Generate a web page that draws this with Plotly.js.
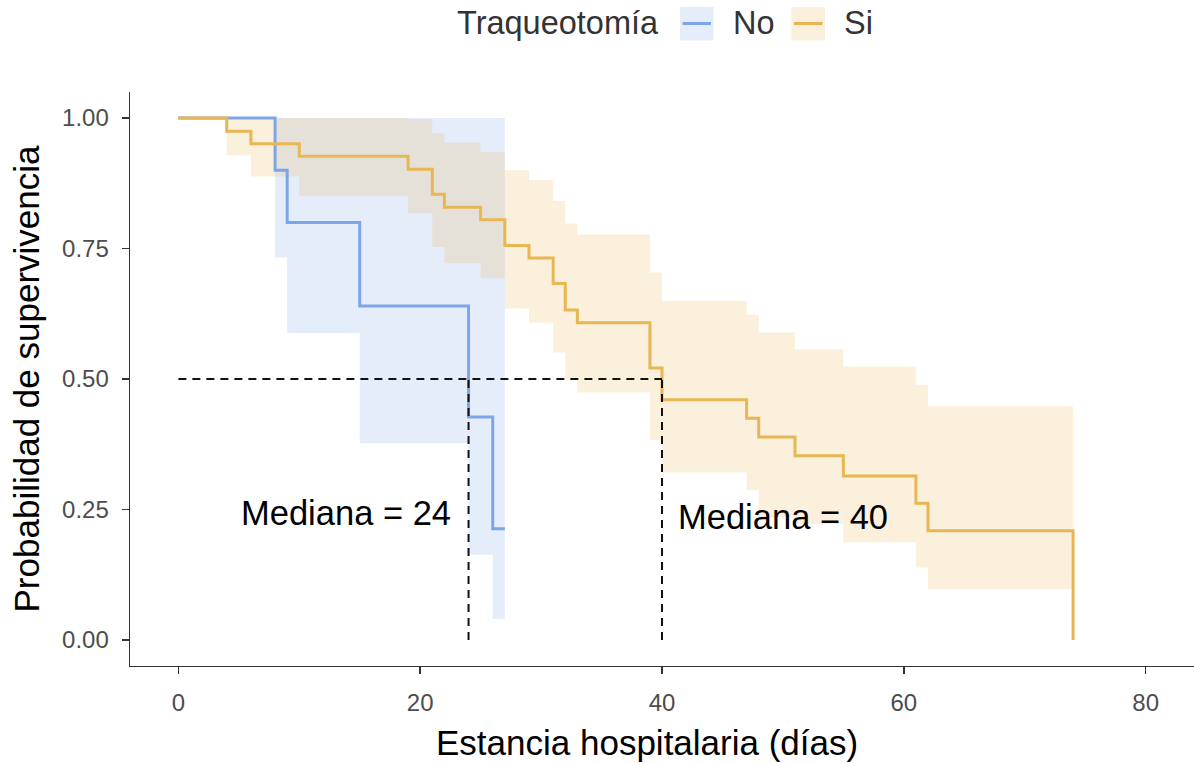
<!DOCTYPE html>
<html>
<head>
<meta charset="utf-8">
<script src="https://cdn.plot.ly/plotly-3.0.1.min.js"></script>
<style>html,body{margin:0;padding:0;background:#fff;}#chart{width:1194px;height:763px;}</style>
</head>
<body>
<div id="chart"></div>
<script>
// ---- Data ----
// Group "No" (sin traqueotomía)
var noTime  = [0, 8, 9, 15, 24, 26, 27];
var noSurv  = [1, 0.900, 0.800, 0.640, 0.427, 0.213, 0.213];
var noUpper = [1, 1, 1, 1, 1, 1, 1];
var noLower = [1, 0.733, 0.588, 0.377, 0.163, 0.040, 0.040];

// Group "Si" (con traqueotomía)
var siTime  = [0, 4, 6, 10, 19, 21, 22, 25, 27, 29, 31, 32, 33, 39, 40, 47, 48, 51, 55, 61, 62, 74];
var siSurv  = [1, 0.975, 0.951, 0.927, 0.902, 0.854, 0.829, 0.805, 0.756, 0.732, 0.683, 0.632, 0.608, 0.521, 0.460, 0.425, 0.389, 0.353, 0.314, 0.262, 0.209, 0];
var siUpper = [1, 1, 1, 1, 0.998, 0.971, 0.953, 0.935, 0.900, 0.881, 0.841, 0.798, 0.777, 0.704, 0.650, 0.623, 0.589, 0.557, 0.524, 0.489, 0.448, 0.448];
var siLower = [1, 0.929, 0.888, 0.851, 0.817, 0.753, 0.722, 0.693, 0.635, 0.608, 0.551, 0.500, 0.474, 0.383, 0.321, 0.287, 0.235, 0.222, 0.187, 0.139, 0.097, 0.097];

var groupNames = ["No", "Si"];
var medians = [24, 40];
var medianLevel = 0.5;
var medianLabels = ["Mediana = 24", "Mediana = 40"];
var legendTitle = "Traqueotomía";
var xTitle = "Estancia hospitalaria (días)";
var yTitle = "Probabilidad de supervivencia";

var xTicks = [0, 20, 40, 60, 80];
var yTicks = [0, 0.25, 0.5, 0.75, 1];
var yTickText = ["0.00", "0.25", "0.50", "0.75", "1.00"];

// ---- Styles ----
var blue = "rgb(124,166,234)";
var blueFill = "rgba(124,166,234,0.2)";
var orange = "rgb(232,182,82)";
var orangeFill = "rgba(232,182,82,0.2)";
var FONT = "Liberation Sans, Arial, Helvetica, sans-serif";

// lines for the median reference (built from medians)
var dx = [], dy = [];
var maxMed = Math.max.apply(null, medians);
dx.push(0, maxMed, null); dy.push(medianLevel, medianLevel, null);
medians.forEach(function (m) { dx.push(m, m, null); dy.push(0, medianLevel, null); });

var traces = [
  {x: noTime, y: noLower, mode: "lines", line: {width: 0, shape: "hv"}, hoverinfo: "skip", showlegend: false},
  {x: noTime, y: noUpper, mode: "lines", line: {width: 0, shape: "hv"}, fill: "tonexty", fillcolor: blueFill, hoverinfo: "skip", showlegend: false},
  {x: siTime, y: siLower, mode: "lines", line: {width: 0, shape: "hv"}, hoverinfo: "skip", showlegend: false},
  {x: siTime, y: siUpper, mode: "lines", line: {width: 0, shape: "hv"}, fill: "tonexty", fillcolor: orangeFill, hoverinfo: "skip", showlegend: false},
  {x: noTime, y: noSurv, name: groupNames[0], mode: "lines", line: {color: blue, width: 3, shape: "hv"}, showlegend: false},
  {x: siTime, y: siSurv, name: groupNames[1], mode: "lines", line: {color: orange, width: 3, shape: "hv"}, showlegend: false},
  {x: dx, y: dy, mode: "lines", line: {color: "#111", width: 2, dash: "8px,6px"}, hoverinfo: "skip", showlegend: false, connectgaps: false}
];

// Manual legend (paper coordinates; plot area 130..1194 x 92..666 px)
function px2x(p) { return (p - 130) / 1064; }
function px2y(p) { return (666 - p) / 574; }
var legY = px2y(23.5);

var shapes = [
  {type: "rect", xref: "paper", yref: "paper", x0: px2x(680), x1: px2x(713.5), y0: px2y(40.5), y1: px2y(7), fillcolor: blueFill, line: {width: 0}},
  {type: "line", xref: "paper", yref: "paper", x0: px2x(682.5), x1: px2x(711), y0: legY, y1: legY, line: {color: blue, width: 3}},
  {type: "rect", xref: "paper", yref: "paper", x0: px2x(791.5), x1: px2x(825), y0: px2y(40.5), y1: px2y(7), fillcolor: orangeFill, line: {width: 0}},
  {type: "line", xref: "paper", yref: "paper", x0: px2x(794), x1: px2x(822.5), y0: legY, y1: legY, line: {color: orange, width: 3}}
];

var annotations = [
  {xref: "paper", yref: "paper", x: px2x(661), y: legY, xanchor: "right", yanchor: "middle", text: legendTitle, showarrow: false, font: {family: FONT, size: 32.5, color: "#333"}},
  {xref: "paper", yref: "paper", x: px2x(730.5), y: legY, xanchor: "left", yanchor: "middle", text: groupNames[0], showarrow: false, font: {family: FONT, size: 32.5, color: "#333"}},
  {xref: "paper", yref: "paper", x: px2x(842), y: legY, xanchor: "left", yanchor: "middle", text: groupNames[1], showarrow: false, font: {family: FONT, size: 32.5, color: "#333"}},
  {x: 13.9, y: 0.243, xref: "x", yref: "y", text: medianLabels[0], showarrow: false, xanchor: "center", yanchor: "middle", font: {family: FONT, size: 34.5, color: "#000"}},
  {x: 50.0, y: 0.236, xref: "x", yref: "y", text: medianLabels[1], showarrow: false, xanchor: "center", yanchor: "middle", font: {family: FONT, size: 34.5, color: "#000"}},
  {xref: "paper", yref: "paper", x: px2x(647), y: px2y(742), xanchor: "center", yanchor: "middle", text: xTitle, showarrow: false, borderpad: 0, font: {family: FONT, size: 35, color: "#000"}}
];

var axisCommon = {
  showline: true, linecolor: "#333", linewidth: 1.4, mirror: false,
  ticks: "outside", ticklen: 7, tickwidth: 1.4, tickcolor: "#333",
  tickfont: {family: FONT, size: 24, color: "#4D4D4D"},
  showgrid: false, zeroline: false, automargin: false
};

var layout = {
  width: 1194, height: 763,
  margin: {l: 130, r: 0, t: 92, b: 97, pad: 0},
  paper_bgcolor: "#fff", plot_bgcolor: "#fff",
  font: {family: FONT},
  showlegend: false,
  xaxis: Object.assign({}, axisCommon, {
    range: [-4, 84], tickmode: "array", tickvals: xTicks,
    ticklabelstandoff: 8
  }),
  yaxis: Object.assign({}, axisCommon, {
    range: [-0.05, 1.05], tickmode: "array", tickvals: yTicks, ticktext: yTickText,
    ticklabelstandoff: 8,
    title: {text: yTitle, font: {family: FONT, size: 35, color: "#000"}, standoff: 12}
  }),
  shapes: shapes,
  annotations: annotations
};

Plotly.newPlot("chart", traces, layout, {staticPlot: true, displayModeBar: false});
</script>
</body>
</html>
